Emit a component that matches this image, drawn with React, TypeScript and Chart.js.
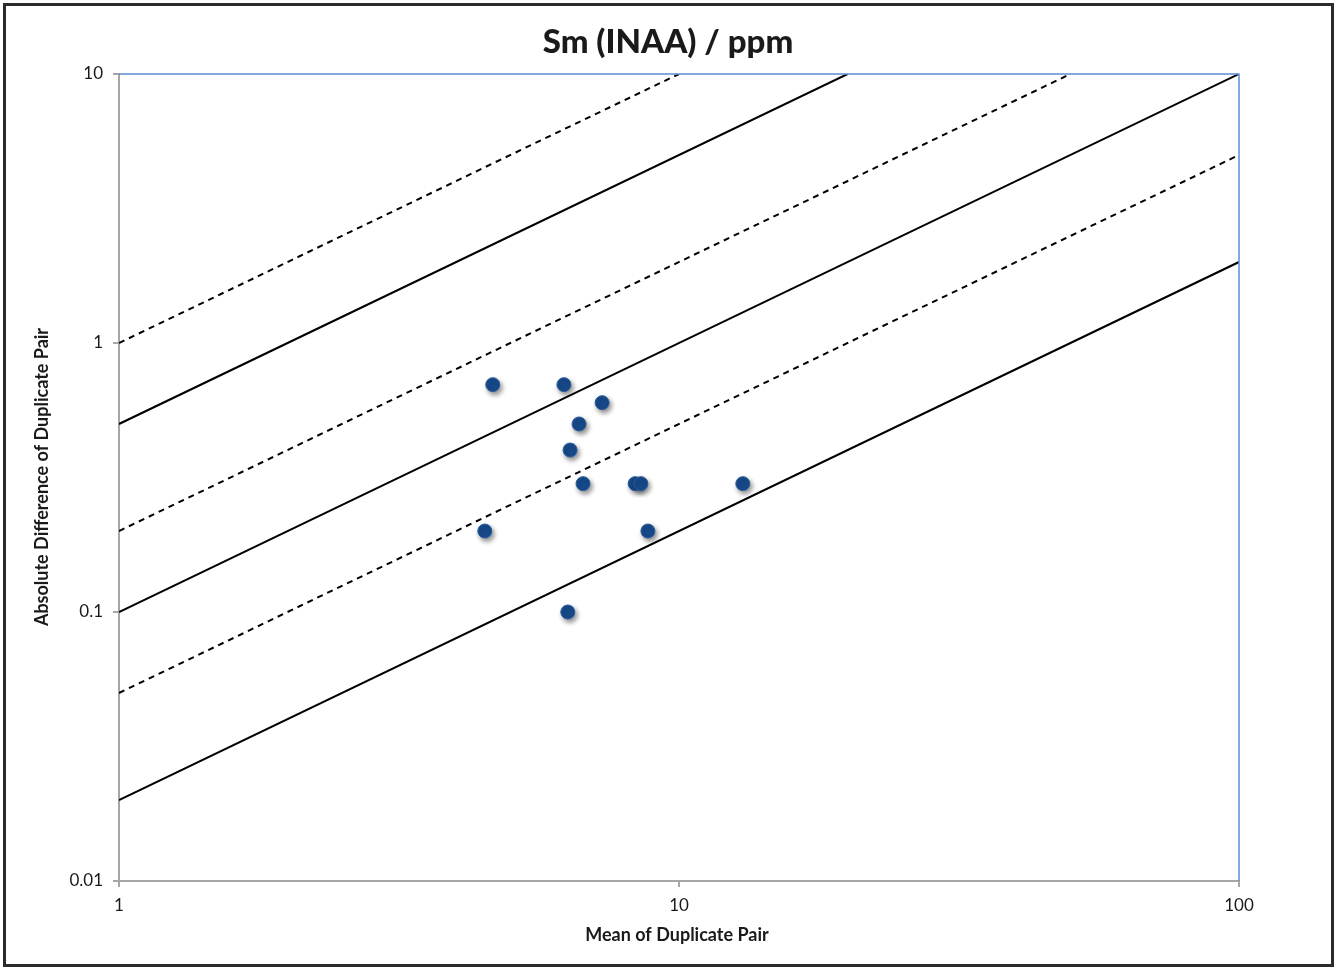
import React, { useEffect, useRef } from "react";
import { Chart, registerables } from "chart.js";

Chart.register(...registerables);

const titleText = "Sm (INAA) / ppm";
const xTitle = "Mean of Duplicate Pair";
const yTitle = "Absolute Difference of Duplicate Pair";

const xTicks = [1, 10, 100];
const yTicks = [0.01, 0.1, 1, 10];
const xTickLabels = ["1", "10", "100"];
const yTickLabels = ["0.01", "0.1", "1", "10"];

// Duplicate pair data
const meanValues = [4.65, 6.23, 7.29, 6.63, 6.39, 6.74, 8.35, 8.55, 13.0, 4.5, 8.8, 6.33];
const diffValues = [0.7, 0.7, 0.6, 0.5, 0.4, 0.3, 0.3, 0.3, 0.3, 0.2, 0.2, 0.1];

// Reference precision lines: y = k * x
const lineRatios = [1, 0.5, 0.2, 0.1, 0.05, 0.02];
const lineDashed = [true, false, true, false, true, false];

const X_MIN = 1, X_MAX = 100, Y_MIN = 0.01, Y_MAX = 10;

export default function App() {
  const ref = useRef<HTMLCanvasElement | null>(null);

  useEffect(() => {
    if (!ref.current) return;
    const lineSets = lineRatios.map((k, i) => {
      const xEnd = Math.min(X_MAX, Y_MAX / k);
      return {
        type: "line" as const,
        data: [
          { x: X_MIN, y: k * X_MIN },
          { x: xEnd, y: k * xEnd },
        ],
        borderColor: "#000000",
        borderWidth: 2,
        borderDash: lineDashed[i] ? [6, 5] : [],
        pointRadius: 0,
        fill: false,
        showLine: true,
      };
    });

    const pointSet = {
      type: "scatter" as const,
      data: meanValues.map((m, i) => ({ x: m, y: diffValues[i] })),
      backgroundColor: "#174a8b",
      borderColor: "#2a5d9c",
      borderWidth: 1,
      pointRadius: 7,
      pointHoverRadius: 7,
    };

    const decor = {
      id: "decor",
      beforeDatasetDraw(chart: any, args: any) {
        if (args.index === lineSets.length) {
          const ctx = chart.ctx;
          ctx.save();
          ctx.shadowColor = "rgba(0,0,0,0.45)";
          ctx.shadowBlur = 5;
          ctx.shadowOffsetX = 2;
          ctx.shadowOffsetY = 3;
        }
      },
      afterDatasetDraw(chart: any, args: any) {
        if (args.index === lineSets.length) {
          chart.ctx.restore();
        }
      },
      afterDraw(chart: any) {
        const { ctx, chartArea } = chart;
        ctx.save();
        ctx.strokeStyle = "#5b8fd3";
        ctx.lineWidth = 1.5;
        ctx.beginPath();
        ctx.moveTo(chartArea.left, chartArea.top);
        ctx.lineTo(chartArea.right, chartArea.top);
        ctx.lineTo(chartArea.right, chartArea.bottom);
        ctx.stroke();

        ctx.fillStyle = "#1a1a1a";
        ctx.textAlign = "center";
        ctx.textBaseline = "middle";
        ctx.font = "900 33px Lato";
        ctx.fillText(titleText, 668, 42);

        ctx.font = "bold 18px Lato";
        ctx.fillText(xTitle, 677, 935);

        ctx.translate(42, 477);
        ctx.rotate(-Math.PI / 2);
        ctx.fillText(yTitle, 0, 0);
        ctx.restore();
      },
    };

    const chart = new Chart(ref.current, {
      type: "scatter",
      data: { datasets: [...lineSets, pointSet] as any },
      plugins: [decor],
      options: {
        animation: false,
        responsive: false,
        maintainAspectRatio: false,
        layout: { padding: { left: 0, right: 99, top: 74, bottom: 0 } },
        plugins: { legend: { display: false }, tooltip: { enabled: false }, title: { display: false } },
        scales: {
          x: {
            type: "logarithmic",
            min: X_MIN,
            max: X_MAX,
            afterFit(scale: any) { scale.height = 89; },
            afterBuildTicks(scale: any) { scale.ticks = xTicks.map((v) => ({ value: v })); },
            ticks: {
              autoSkip: false,
              maxRotation: 0,
              padding: 8,
              color: "#1a1a1a",
              font: { family: "Lato", size: 17 },
              callback: (v: any) => xTickLabels[xTicks.indexOf(Number(v))] ?? "",
            },
            grid: { drawOnChartArea: false, drawTicks: true, tickLength: 6, color: "#a6a6a6", lineWidth: 2 },
            border: { display: true, color: "#a6a6a6", width: 2 },
          },
          y: {
            type: "logarithmic",
            min: Y_MIN,
            max: Y_MAX,
            afterFit(scale: any) { scale.width = 119; },
            afterBuildTicks(scale: any) { scale.ticks = yTicks.map((v) => ({ value: v })); },
            ticks: {
              autoSkip: false,
              padding: 10,
              color: "#1a1a1a",
              font: { family: "Lato", size: 17 },
              callback: (v: any) => {
                const idx = yTicks.findIndex((t) => Math.abs(t - Number(v)) / t < 1e-6);
                return idx >= 0 ? yTickLabels[idx] : "";
              },
            },
            grid: { drawOnChartArea: false, drawTicks: true, tickLength: 6, color: "#a6a6a6", lineWidth: 2 },
            border: { display: true, color: "#a6a6a6", width: 2 },
          },
        },
      } as any,
    });
    return () => chart.destroy();
  }, []);

  return (
    <div style={{ position: "fixed", left: 0, top: 0, width: 1338, height: 970, background: "#fff" }}>
      <canvas ref={ref} width={1338} height={970} style={{ position: "absolute", left: 0, top: 0, width: 1338, height: 970 }} />
      <div
        style={{
          position: "absolute",
          left: 3,
          top: 3,
          width: 1325,
          height: 958,
          border: "3px solid #2b2b2b",
          pointerEvents: "none",
        }}
      />
    </div>
  );
}
